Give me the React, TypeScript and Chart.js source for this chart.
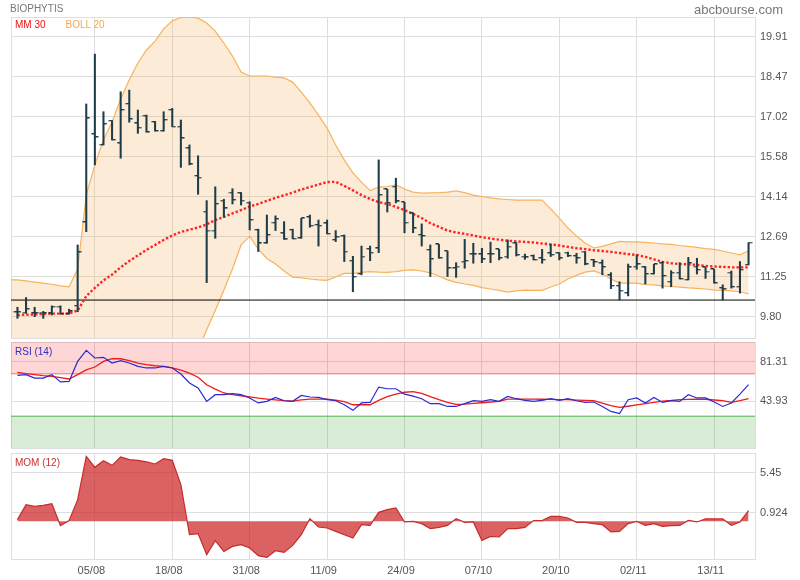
import React, { useEffect, useRef } from 'react';
import { Chart, registerables } from 'chart.js';

Chart.register(...registerables);

// ---- categories (trading sessions) ----
const dates = [
  '23/07', '24/07', '27/07', '28/07', '29/07', '30/07', '31/07',
  '03/08', '04/08', '05/08', '06/08', '07/08', '10/08', '11/08', '12/08', '13/08', '14/08', '17/08', '18/08', '19/08', '20/08', '21/08', '24/08', '25/08', '26/08', '27/08', '28/08', '31/08',
  '01/09', '02/09', '03/09', '04/09', '07/09', '08/09', '09/09', '10/09', '11/09', '14/09', '15/09', '16/09', '17/09', '18/09', '21/09', '22/09', '23/09', '24/09', '25/09', '28/09', '29/09', '30/09',
  '01/10', '02/10', '05/10', '06/10', '07/10', '08/10', '09/10', '12/10', '13/10', '14/10', '15/10', '16/10', '19/10', '20/10', '21/10', '22/10', '23/10', '26/10', '27/10', '28/10', '29/10', '30/10',
  '02/11', '03/11', '04/11', '05/11', '06/11', '09/11', '10/11', '11/11', '12/11', '13/11', '16/11', '17/11', '18/11', '19/11',
];

// ---- OHLC ----
const open = [9.97, 9.96, 9.93, 9.96, 9.93, 10.17, 9.90, 10.20, 13.22, 16.40,
  16.01, 16.88, 16.07, 17.49, 16.79, 17.06, 16.84, 16.51, 17.27, 16.67,
  15.89, 14.89, 13.60, 12.92, 14.00, 14.29, 14.27, 13.93, 12.94, 12.46,
  13.20, 12.82, 12.94, 12.64, 13.40, 13.12, 13.18, 12.58, 12.72, 11.83,
  11.35, 12.25, 12.28, 14.41, 14.50, 13.94, 13.54, 12.76, 12.22, 12.42,
  12.18, 11.56, 11.80, 12.06, 12.06, 12.07, 12.24, 11.98, 12.46, 11.98,
  12.00, 11.92, 12.10, 12.10, 12.12, 12.00, 12.16, 11.86, 11.74, 11.30,
  10.92, 10.66, 11.62, 11.59, 11.35, 11.74, 11.07, 11.40, 11.14, 11.62,
  11.59, 11.52, 10.84, 11.40, 10.89, 11.68];
const high = [10.15, 10.50, 10.15, 10.00, 10.20, 10.20, 10.08, 12.40, 17.49, 19.29,
  17.21, 16.89, 17.93, 17.99, 17.27, 17.09, 16.86, 17.21, 17.33, 16.91,
  16.01, 15.62, 14.00, 14.50, 14.05, 14.43, 14.29, 13.96, 12.97, 13.48,
  13.45, 13.24, 12.97, 13.36, 13.48, 13.30, 13.30, 12.92, 12.76, 11.99,
  12.36, 12.36, 15.47, 14.41, 14.81, 13.94, 13.56, 13.16, 12.40, 12.42,
  12.18, 11.76, 12.60, 12.46, 12.28, 12.50, 12.24, 12.58, 12.48, 12.07,
  12.04, 12.24, 12.42, 12.12, 12.14, 12.10, 12.16, 11.88, 11.86, 11.40,
  11.07, 11.71, 12.04, 11.62, 11.70, 11.80, 11.47, 11.76, 11.95, 11.92,
  11.59, 11.52, 10.96, 11.46, 11.80, 12.48];
const low = [9.75, 9.93, 9.81, 9.75, 9.87, 9.90, 9.90, 9.99, 12.88, 15.29,
  16.01, 16.19, 15.53, 16.83, 16.43, 16.47, 16.51, 16.51, 16.67, 15.20,
  15.29, 14.23, 11.04, 12.64, 13.40, 13.88, 13.84, 12.94, 12.16, 12.46,
  12.92, 12.60, 12.62, 12.64, 13.04, 12.36, 12.80, 12.52, 11.80, 10.71,
  11.32, 11.83, 12.12, 13.59, 13.92, 12.84, 12.84, 12.36, 11.26, 11.92,
  11.26, 11.23, 11.56, 11.74, 11.76, 11.76, 11.86, 11.92, 12.00, 11.88,
  11.86, 11.74, 11.98, 11.86, 11.98, 11.74, 11.68, 11.62, 11.32, 10.82,
  10.41, 10.56, 11.52, 10.99, 11.35, 10.84, 10.89, 11.17, 11.14, 11.35,
  11.19, 11.02, 10.41, 10.84, 10.66, 11.68];
const close = [9.97, 10.08, 9.94, 9.94, 10.17, 9.90, 10.00, 12.14, 16.97, 16.29,
  16.76, 16.19, 17.27, 16.94, 16.63, 16.47, 16.51, 16.91, 16.67, 16.25,
  15.31, 14.83, 12.92, 13.88, 13.72, 14.02, 14.00, 13.30, 12.46, 12.76,
  13.33, 12.60, 12.62, 13.36, 13.09, 13.09, 12.80, 12.68, 12.16, 11.25,
  11.98, 12.12, 14.20, 13.92, 13.97, 13.20, 13.00, 12.72, 11.89, 11.92,
  11.56, 11.62, 11.82, 12.06, 11.88, 12.06, 11.92, 12.34, 12.03, 11.95,
  11.86, 11.86, 12.04, 11.92, 12.00, 11.92, 11.70, 11.78, 11.60, 10.92,
  10.75, 11.59, 11.70, 11.35, 11.70, 11.28, 11.40, 11.17, 11.74, 11.50,
  11.44, 11.02, 10.80, 10.88, 11.50, 12.48];

// ---- Bollinger 20 (first value = previous session, before 23/07) ----
const bollUpper = [11.14,
  11.14, 11.10, 11.06, 11.02, 10.98, 10.92, 10.89, 11.53, 14.20, 15.29,
  16.19, 16.84, 17.67, 18.36, 18.97, 19.44, 19.76, 20.20, 20.49, 20.61,
  20.63, 20.59, 20.41, 20.12, 19.69, 19.22, 18.64, 18.50, 18.50, 18.50,
  18.46, 18.43, 18.28, 17.92, 17.53, 17.09, 16.62, 16.01, 15.47, 15.00,
  14.67, 14.36, 14.49, 14.51, 14.57, 14.42, 14.31, 14.27, 14.28, 14.29,
  14.31, 14.35, 14.29, 14.20, 14.15, 14.10, 14.06, 14.04, 14.02, 14.02,
  14.02, 14.02, 13.70, 13.37, 13.01, 12.72, 12.47, 12.29, 12.35, 12.44,
  12.53, 12.51, 12.51, 12.49, 12.47, 12.44, 12.42, 12.38, 12.35, 12.31,
  12.27, 12.24, 12.18, 12.11, 12.04, 12.19];
const bollLower = [8.90,
  8.90, 8.90, 8.90, 8.90, 8.90, 8.90, 8.90, 8.68, 6.72, 6.25,
  6.03, 6.00, 5.89, 5.90, 5.95, 6.12, 6.46, 6.70, 7.07, 7.57,
  8.09, 8.61, 9.34, 10.03, 10.77, 11.53, 12.40, 12.71, 12.25, 11.91,
  11.71, 11.46, 11.24, 11.21, 11.17, 11.14, 11.12, 11.24, 11.37, 11.37,
  11.41, 11.44, 11.42, 11.41, 11.44, 11.48, 11.50, 11.46, 11.39, 11.28,
  11.14, 11.05, 10.99, 10.94, 10.86, 10.81, 10.76, 10.70, 10.74, 10.77,
  10.76, 10.76, 10.88, 10.99, 11.17, 11.30, 11.42, 11.46, 11.35, 11.17,
  11.02, 11.02, 11.02, 10.97, 10.96, 10.92, 10.90, 10.88, 10.85, 10.83,
  10.81, 10.77, 10.76, 10.74, 10.71, 10.63];

// ---- MM 30 ----
const mm30 = [9.87, 9.88, 9.89, 9.91, 9.92, 9.92, 9.93, 10.03, 10.55, 10.85,
  11.12, 11.33, 11.59, 11.82, 12.02, 12.22, 12.40, 12.58, 12.74, 12.87,
  12.95, 13.03, 13.14, 13.30, 13.41, 13.54, 13.66, 13.78, 13.88, 13.99,
  14.10, 14.19, 14.29, 14.40, 14.49, 14.58, 14.67, 14.68, 14.53, 14.37,
  14.20, 14.06, 13.95, 13.88, 13.77, 13.66, 13.52, 13.37, 13.19, 13.05,
  12.92, 12.85, 12.80, 12.74, 12.68, 12.63, 12.59, 12.55, 12.53, 12.51,
  12.49, 12.45, 12.42, 12.38, 12.33, 12.28, 12.25, 12.21, 12.18, 12.15,
  12.11, 12.07, 12.04, 11.97, 11.88, 11.79, 11.74, 11.71, 11.70, 11.68,
  11.64, 11.62, 11.61, 11.59, 11.59, 11.59];

const supportLevel = 10.41;

// ---- RSI (14) ----
const rsi = [68.5, 69.2, 66.0, 66.0, 69.2, 62.3, 62.8, 81.7, 92.1, 84.9,
  85.5, 80.2, 82.4, 80.2, 77.0, 75.5, 75.5, 77.0, 75.5, 69.8,
  61.3, 56.6, 44.0, 50.3, 50.3, 51.2, 50.3, 47.2, 42.5, 44.0,
  47.7, 44.6, 44.0, 49.6, 48.1, 47.7, 45.6, 44.6, 40.8, 35.5,
  42.5, 43.0, 57.5, 55.9, 55.9, 50.8, 48.9, 46.5, 41.8, 41.8,
  39.2, 39.2, 41.8, 44.6, 44.0, 45.6, 44.0, 48.7, 46.5, 44.9,
  44.0, 44.9, 46.5, 44.9, 46.5, 44.6, 43.0, 43.4, 39.2, 34.5,
  32.4, 45.6, 47.2, 42.5, 47.7, 43.0, 44.6, 44.0, 50.3, 47.2,
  47.2, 43.4, 39.2, 42.5, 50.9, 59.7];
const rsiSignal = [71.3, 70.1, 69.2, 68.2, 67.5, 66.3, 65.1, 69.2, 73.7, 76.4,
  81.7, 84.2, 84.2, 82.4, 80.0, 78.6, 77.6, 77.0, 75.5, 73.4,
  70.6, 66.8, 59.7, 55.5, 51.9, 50.3, 49.3, 48.2, 47.1, 46.2,
  45.4, 44.6, 44.2, 45.4, 46.2, 46.2, 46.2, 45.1, 43.7, 40.8,
  40.8, 40.8, 44.9, 48.4, 50.8, 52.6, 53.1, 51.5, 48.4, 45.6,
  43.0, 41.2, 41.3, 42.1, 42.7, 43.4, 44.0, 46.2, 46.2, 46.2,
  46.2, 46.0, 45.8, 45.7, 45.6, 45.2, 44.9, 44.6, 42.3, 39.9,
  38.3, 39.4, 40.6, 41.8, 43.0, 44.2, 44.8, 45.6, 45.8, 46.1,
  46.0, 45.3, 44.6, 43.0, 44.6, 46.5];
const rsiOverbought = 70;
const rsiOversold = 30;

// ---- MOM (12) ----
const mom = [0.17, 1.87, 1.67, 1.79, 1.98, -0.51, 0.06, 2.43, 7.33, 6.09,
  6.84, 6.31, 7.26, 6.96, 6.88, 6.70, 6.47, 7.07, 6.88, 4.13,
  -1.53, -1.41, -3.79, -2.21, -3.42, -2.85, -2.66, -3.03, -3.90, -4.10,
  -3.34, -3.53, -2.74, -1.53, 0.28, -0.66, -0.77, -1.15, -1.53, -1.90,
  -0.40, -0.48, 1.00, 1.30, 1.49, -0.09, -0.02, -0.28, -0.85, -0.70,
  -0.48, 0.28, -0.14, -0.09, -2.17, -1.72, -1.79, -0.85, -0.85, -0.70,
  0.06, 0.06, 0.54, 0.54, 0.36, -0.14, -0.14, -0.28, -0.40, -1.22,
  -1.15, -0.28, -0.02, -0.48, -0.28, -0.59, -0.51, -0.48, 0.09, -0.09,
  0.25, 0.25, 0.25, -0.48, -0.09, 1.19];

// ---- axis ticks ----
const priceTicks = [9.80, 11.25, 12.69, 14.14, 15.58, 17.02, 18.47, 19.91];
const priceTickLabels = ['9.80', '11.25', '12.69', '14.14', '15.58', '17.02', '18.47', '19.91'];
const rsiTicks = [43.93, 81.31];
const rsiTickLabels = ['43.93', '81.31'];
const momTicks = [0.924, 5.45];
const momTickLabels = ['0.924', '5.45'];
const dateTickStep = 9;

// ---- styling / scale limits ----
const X_MIN = -0.75;
const X_MAX = 85.75;
const FONT = '"Liberation Sans", Arial, Helvetica, sans-serif';
const OHLC_COLOR = '#1f3d48';
const GRID = '#dedede';

const idx = dates.map((_, i) => i);
const dateTicks = idx.filter((i) => i > 0 && i % dateTickStep === 0);

function xScale(showLabels: boolean) {
  return {
    type: 'linear',
    min: X_MIN,
    max: X_MAX,
    offset: false,
    afterBuildTicks: (s: any) => {
      s.ticks = [X_MIN, ...dateTicks, X_MAX].map((v) => ({ value: v }));
    },
    afterFit: (s: any) => {
      s.height = showLabels ? 21 : 0;
    },
    ticks: {
      display: showLabels,
      autoSkip: false,
      maxRotation: 0,
      padding: 5,
      labelOffset: -3.5,
      color: '#555',
      font: { size: 11, family: FONT },
      callback: (v: number) => (Number.isInteger(v) && v >= 0 ? dates[v] : ''),
    },
    grid: { color: GRID, drawTicks: false, offset: false },
    border: { display: true, color: GRID },
  };
}

function topBorder() {
  return {
    type: 'linear',
    position: 'top',
    min: X_MIN,
    max: X_MAX,
    offset: false,
    afterFit: (s: any) => {
      s.height = 0;
    },
    ticks: { display: false },
    grid: { display: false, drawTicks: false },
    border: { display: true, color: GRID },
  };
}

function yScale(min: number, max: number, ticks: number[], labels: string[]) {
  return {
    type: 'linear',
    position: 'right',
    min,
    max,
    afterBuildTicks: (s: any) => {
      s.ticks = ticks.map((v) => ({ value: v }));
    },
    afterFit: (s: any) => {
      s.width = 45;
    },
    ticks: {
      padding: 5,
      color: '#555',
      font: { size: 11, family: FONT },
      callback: (v: number) => {
        const k = ticks.indexOf(v);
        return k >= 0 ? labels[k] : '';
      },
    },
    grid: { color: GRID, drawTicks: false },
    border: { display: false },
  };
}

function baseOptions(padding: any, y: any, showX: boolean) {
  return {
    responsive: false,
    maintainAspectRatio: false,
    animation: false,
    events: [],
    layout: { padding },
    plugins: { legend: { display: false }, tooltip: { enabled: false }, title: { display: false } },
    scales: { x: xScale(showX), xTop: topBorder(), y },
  };
}

function tickImage(side: 'left' | 'right') {
  const c = document.createElement('canvas');
  c.width = 8;
  c.height = 2;
  const ctx = c.getContext('2d')!;
  ctx.fillStyle = OHLC_COLOR;
  const x0 = side === 'left' ? 0.5 : 4;
  ctx.fillRect(x0, 0, 3.5, 1);
  ctx.globalAlpha = 0.35;
  ctx.fillRect(x0, 1, 3.5, 1);
  return c;
}

const lineBase = { pointRadius: 0, tension: 0, fill: false };

export default function App() {
  const mainRef = useRef<HTMLCanvasElement>(null);
  const rsiRef = useRef<HTMLCanvasElement>(null);
  const momRef = useRef<HTMLCanvasElement>(null);

  useEffect(() => {
    const openTick = tickImage('left');
    const closeTick = tickImage('right');

    const main = new Chart(mainRef.current as HTMLCanvasElement, {
      type: 'line',
      data: {
        datasets: [
          {
            type: 'bar',
            data: idx.map((i) => ({ x: i, y: [low[i], high[i]] })),
            backgroundColor: OHLC_COLOR,
            barThickness: 1.4,
            order: 0,
          },
          {
            ...lineBase,
            data: idx.map((i) => ({ x: i, y: open[i] })),
            showLine: false,
            pointStyle: openTick,
            pointRadius: 3,
            order: 0,
          },
          {
            ...lineBase,
            data: idx.map((i) => ({ x: i, y: close[i] })),
            showLine: false,
            pointStyle: closeTick,
            pointRadius: 3,
            order: 0,
          },
          {
            ...lineBase,
            data: idx.map((i) => ({ x: i, y: mm30[i] })),
            borderColor: '#ff2323',
            borderWidth: 2.4,
            borderDash: [2.4, 2],
            borderCapStyle: 'butt',
            order: 1,
          },
          {
            ...lineBase,
            data: [{ x: X_MIN, y: supportLevel }, { x: X_MAX, y: supportLevel }],
            borderColor: '#000000',
            borderWidth: 1,
            order: 2,
          },
          {
            ...lineBase,
            data: bollUpper.map((v, k) => ({ x: k - 1, y: v })),
            borderColor: '#f7b35e',
            borderWidth: 1.2,
            fill: '+1',
            backgroundColor: 'rgba(243,175,95,0.25)',
            order: 3,
          },
          {
            ...lineBase,
            data: bollLower.map((v, k) => ({ x: k - 1, y: v })),
            borderColor: '#f7b35e',
            borderWidth: 1.2,
            order: 4,
          },
        ],
      } as any,
      options: baseOptions({ left: 11, top: 17, right: 0, bottom: 12 }, yScale(9.04, 20.63, priceTicks, priceTickLabels), false) as any,
    });

    const rsiChart = new Chart(rsiRef.current as HTMLCanvasElement, {
      type: 'line',
      data: {
        datasets: [
          {
            ...lineBase,
            data: idx.map((i) => ({ x: i, y: rsi[i] })),
            borderColor: '#2a2ad0',
            borderWidth: 1.2,
            order: 0,
          },
          {
            ...lineBase,
            data: idx.map((i) => ({ x: i, y: rsiSignal[i] })),
            borderColor: '#f01a1a',
            borderWidth: 1.3,
            order: 1,
          },
          {
            ...lineBase,
            data: [{ x: X_MIN, y: rsiOverbought }, { x: X_MAX, y: rsiOverbought }],
            borderColor: '#f07474',
            borderWidth: 1,
            fill: 'end',
            backgroundColor: 'rgba(255,0,0,0.16)',
            order: 2,
          },
          {
            ...lineBase,
            data: [{ x: X_MIN, y: rsiOversold }, { x: X_MAX, y: rsiOversold }],
            borderColor: '#55b055',
            borderWidth: 1,
            fill: 'start',
            backgroundColor: 'rgba(60,160,60,0.2)',
            order: 3,
          },
        ],
      } as any,
      options: baseOptions({ left: 11, top: 12, right: 0, bottom: 12 }, yScale(0, 100, rsiTicks, rsiTickLabels), false) as any,
    });

    const momChart = new Chart(momRef.current as HTMLCanvasElement, {
      type: 'line',
      data: {
        datasets: [
          {
            ...lineBase,
            data: idx.map((i) => ({ x: i, y: mom[i] })),
            borderColor: '#c92a2a',
            borderWidth: 1.2,
            fill: 'origin',
            backgroundColor: 'rgba(204,32,32,0.7)',
          },
        ],
      } as any,
      options: baseOptions({ left: 11, top: 12, right: 0, bottom: 0 }, yScale(-4.28, 7.71, momTicks, momTickLabels), true) as any,
    });

    return () => {
      main.destroy();
      rsiChart.destroy();
      momChart.destroy();
    };
  }, []);

  const txt = (extra: React.CSSProperties): React.CSSProperties => ({
    position: 'absolute',
    fontSize: 10,
    lineHeight: '10px',
    whiteSpace: 'nowrap',
    ...extra,
  });

  return (
    <div
      style={{
        position: 'absolute',
        left: 0,
        top: 0,
        width: 800,
        height: 580,
        background: '#ffffff',
        fontFamily: FONT,
        overflow: 'hidden',
      }}
    >
      <canvas ref={mainRef} width={800} height={350} style={{ position: 'absolute', left: 0, top: 0 }} />
      <canvas ref={rsiRef} width={800} height={130} style={{ position: 'absolute', left: 0, top: 330 }} />
      <canvas ref={momRef} width={800} height={139} style={{ position: 'absolute', left: 0, top: 441 }} />
      <div style={txt({ left: 10, top: 4, color: '#777' })}>BIOPHYTIS</div>
      <div style={txt({ right: 17, top: 3, color: '#777', fontSize: 13, lineHeight: '13px' })}>abcbourse.com</div>
      <div style={txt({ left: 15, top: 19.5, color: '#ee1111' })}>MM 30</div>
      <div style={txt({ left: 65.5, top: 19.5, color: '#f5a84e' })}>BOLL 20</div>
      <div style={txt({ left: 15, top: 346.5, color: '#3030c0' })}>RSI (14)</div>
      <div style={txt({ left: 15, top: 457.5, color: '#c93030' })}>MOM (12)</div>
    </div>
  );
}
